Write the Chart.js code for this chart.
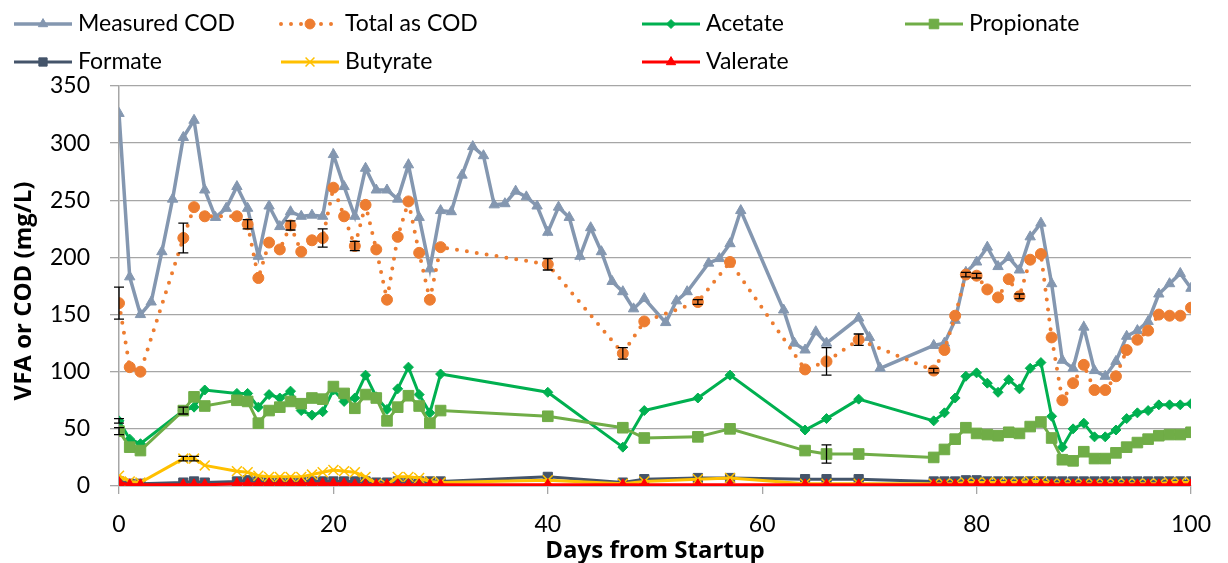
<!DOCTYPE html>
<html>
<head>
<meta charset="utf-8">
<title>VFA and COD</title>
<script src="https://cdn.jsdelivr.net/npm/chart.js@4/dist/chart.umd.min.js"></script>
<style>
  html, body { margin: 0; padding: 0; background: #fff; }
  #wrap { width: 1228px; height: 563px; }
</style>
</head>
<body>
<div id="wrap"><canvas id="grafico" width="1228" height="563"></canvas></div>
<script>
// sampling days for the measured COD series
const measuredDays = [0,1,2,3,4,5,6,7,8,9,10,11,12,13,14,15,16,17,18,19,20,21,22,23,24,25,26,27,28,29,
  30,31,32,33,34,35,36,37,38,39,40,41,42,43,44,45,46,47,48,49,51,52,53,55,56,57,58,62,63,64,65,66,69,70,71,
  76,77,78,79,80,81,82,83,84,85,86,87,88,89,90,91,92,93,94,95,96,97,98,99,100];
const measuredCOD = [326,183,150,161,205,251,305,320,259,235,243,262,243,201,245,227,240,236,237,236,
  290,262,236,278,259,259,251,281,235,190,241,240,272,297,289,246,247,258,253,245,
  222,244,235,201,226,205,179,170,155,164,143,162,170,195,199,212,241,154,125,119,135,125,147,130,103,
  123,125,145,187,196,209,192,200,189,218,230,177,110,103,139,101,96,109,131,136,144,168,177,186,173];

// sampling days for the VFA analyses
const vfaDays = [0,1,2,6,7,8,11,12,13,14,15,16,17,18,19,20,21,22,23,24,25,26,27,28,29,30,
  40,47,49,54,57,64,66,69,76,77,78,79,80,81,82,83,84,85,86,87,88,89,90,91,92,93,94,95,96,97,98,99,100];
const totalCOD = [160,104,100,217,244,236,236,229,182,213,207,228,205,215,217,261,236,210,246,207,163,218,249,204,163,209,
  194,116,144,161,196,102,109,128,101,119,149,185,184,172,165,181,166,198,203,130,75,90,106,84,84,96,119,128,136,150,149,149,156];
const totalErr = [14,0,0,13,0,0,0,4,0,0,0,4,0,0,8,0,0,4,0,0,0,0,0,0,0,0,
  5,5,0,2,0,0,12,5,2,0,0,2,2,0,0,0,2,0,0,0,0,0,0,0,0,0,0,0,0,0,0,0,0];
const acetate = [57,41,37,66,69,84,81,81,69,80,77,83,66,62,65,84,74,77,97,78,67,85,104,80,64,98,
  82,34,66,77,97,49,59,76,57,64,77,96,99,90,82,93,85,103,108,61,34,50,55,43,43,49,59,64,66,71,71,71,72];
const acetateErr = [2,0,0,3,0,0,0,0,0,0,0,0,0,0,0,0,0,0,0,0,0,0,0,0,0,0,
  0,0,0,0,0,0,0,0,0,0,0,0,0,0,0,0,0,0,0,0,0,0,0,0,0,0,0,0,0,0,0,0,0];
const propionate = [48,34,31,66,78,70,75,74,55,66,69,74,72,77,76,87,81,68,80,77,57,69,79,70,55,66,
  61,51,42,43,50,31,28,28,25,32,41,51,46,45,44,47,46,52,56,42,23,22,30,24,24,29,34,38,41,44,45,45,47];
const propionateErr = [3,0,0,0,0,0,0,0,0,0,0,0,0,0,0,0,0,0,0,0,0,0,0,0,0,0,
  0,0,0,0,0,0,8,0,0,0,0,0,0,0,0,0,0,0,0,0,0,0,0,0,0,0,0,0,0,0,0,0,0];
const formate = [4,2,2,3,4,3,4,5,4,4,4,4,4,4,4,4,4,4,4,3,3,4,4,4,4,4,
  8,3,6,7,7,6,6,6,4,4,4,5,5,4,4,4,4,4,4,4,4,4,4,4,4,4,4,4,4,4,4,4,4];
const butyrate = [9,4,3,24,24,18,13,12,9,8,8,8,8,10,12,14,13,12,8,2,1,8,8,7,4,3,
  5,2,4,6,7,2,2,2,2,2,2,3,3,3,3,3,3,4,4,2,2,2,2,2,2,2,2,2,2,2,3,3,3];
const butyrateErr = [0,0,0,2,2,0,0,0,0,0,0,0,0,0,0,0,0,0,0,0,0,0,0,0,0,0,
  0,0,0,0,0,0,0,0,0,0,0,0,0,0,0,0,0,0,0,0,0,0,0,0,0,0,0,0,0,0,0,0,0];
const valerate = [3,1,1,1,1,1,2,2,2,2,2,2,2,2,2,2,2,1,1,1,1,1,1,1,1,1,
  1,1,1,1,1,1,1,1,1,1,1,1,1,1,1,1,1,1,1,1,1,1,1,1,1,1,1,1,1,1,1,1,1];

const yTicks = [0,50,100,150,200,250,300,350];
const xTicks = [0,20,40,60,80,100];
const xTitle = 'Days from Startup';
const yTitle = 'VFA or COD (mg/L)';

const pts = (days, vals) => days.map((d, i) => ({ x: d, y: vals[i] }));

const fontFamily = 'Lato, "Open Sans", sans-serif';

function serie(label, days, vals, color, style, radius, extra) {
  return Object.assign({
    label: label,
    data: pts(days, vals),
    borderColor: color,
    backgroundColor: color,
    pointBackgroundColor: color,
    pointBorderColor: color,
    pointStyle: style,
    pointRadius: radius,
    pointHoverRadius: radius,
    pointBorderWidth: 1,
    borderWidth: 3,
    tension: 0,
    fill: false
  }, extra || {});
}

const datasets = [
  serie('Measured COD', measuredDays, measuredCOD, '#8497B0', 'triangle', 6, { borderWidth: 3.5, order: 7 }),
  serie('Total as COD', vfaDays, totalCOD, '#ED7D31', 'circle', 5.5, {
    borderWidth: 4, borderDash: [0, 10], borderCapStyle: 'round', order: 6, errorBars: totalErr }),
  serie('Acetate', vfaDays, acetate, '#00B050', 'rectRot', 5, { order: 5, errorBars: acetateErr }),
  serie('Propionate', vfaDays, propionate, '#70AD47', 'rect', 7.5, { order: 4, errorBars: propionateErr }),
  serie('Formate', vfaDays, formate, '#44546A', 'rect', 6.5, { order: 3 }),
  serie('Butyrate', vfaDays, butyrate, '#FFC000', 'crossRot', 7, { pointBorderWidth: 1.5, order: 2, errorBars: butyrateErr }),
  serie('Valerate', vfaDays, valerate, '#FF0000', 'triangle', 6, { order: 1 })
];

// vertical error bars with caps, from the dataset's errorBars array
const errorBarPlugin = {
  id: 'errorBars',
  afterDatasetsDraw(chart) {
    const ctx = chart.ctx;
    const yScale = chart.scales.y;
    ctx.save();
    ctx.strokeStyle = '#000';
    ctx.lineWidth = 1.3;
    chart.data.datasets.forEach((ds, di) => {
      if (!ds.errorBars) return;
      const meta = chart.getDatasetMeta(di);
      meta.data.forEach((pt, i) => {
        const e = ds.errorBars[i];
        if (!e) return;
        const v = ds.data[i].y;
        const top = yScale.getPixelForValue(v + e);
        const bot = yScale.getPixelForValue(v - e);
        ctx.beginPath();
        ctx.moveTo(pt.x, top); ctx.lineTo(pt.x, bot);
        ctx.moveTo(pt.x - 5, top); ctx.lineTo(pt.x + 5, top);
        ctx.moveTo(pt.x - 5, bot); ctx.lineTo(pt.x + 5, bot);
        ctx.stroke();
      });
    });
    ctx.restore();
  }
};

// two-row legend laid out in fixed columns
const columnLegend = {
  id: 'columnLegend',
  afterDraw(chart, args, opts) {
    const ctx = chart.ctx;
    ctx.save();
    ctx.font = opts.font;
    ctx.textBaseline = 'middle';
    ctx.fillStyle = '#000';
    chart.data.datasets.forEach((ds, i) => {
      const col = i % 4, row = Math.floor(i / 4);
      const x = opts.columns[col], y = opts.rows[row];
      ctx.save();
      ctx.strokeStyle = ds.borderColor;
      ctx.lineWidth = ds.borderWidth;
      ctx.lineCap = ds.borderCapStyle || 'butt';
      ctx.setLineDash(ds.borderDash || []);
      ctx.beginPath();
      ctx.moveTo(x, y); ctx.lineTo(x + opts.lineLength, y);
      ctx.stroke();
      ctx.setLineDash([]);
      ctx.fillStyle = ds.pointBackgroundColor;
      ctx.strokeStyle = ds.pointBorderColor;
      ctx.lineWidth = ds.pointBorderWidth;
      Chart.helpers.drawPoint(ctx, {
        pointStyle: ds.pointStyle, rotation: 0,
        radius: ds.pointRadius * 0.9, borderWidth: ds.pointBorderWidth
      }, x + opts.lineLength / 2, y);
      ctx.restore();
      ctx.fillText(ds.label, x + opts.lineLength + 6, y);
    });
    ctx.restore();
  }
};

// axis titles, placed against the chart area
const axisTitles = {
  id: 'axisTitles',
  afterDraw(chart, args, opts) {
    const ctx = chart.ctx;
    const area = chart.chartArea;
    ctx.save();
    ctx.font = opts.font;
    ctx.fillStyle = '#000';
    ctx.textAlign = 'center';
    ctx.textBaseline = 'alphabetic';
    ctx.fillText(xTitle, (area.left + area.right) / 2, opts.xBaseline);
    ctx.translate(opts.yBaseline, (area.top + area.bottom) / 2 + 5);
    ctx.rotate(-Math.PI / 2);
    ctx.fillText(yTitle, 0, 0);
    ctx.restore();
  }
};

new Chart(document.getElementById('grafico'), {
  type: 'line',
  data: { datasets: datasets },
  plugins: [errorBarPlugin, columnLegend, axisTitles],
  options: {
    responsive: false,
    animation: false,
    layout: { padding: { top: 86, right: 35, left: 0, bottom: 0 } },
    plugins: {
      legend: { display: false },
      tooltip: { enabled: false },
      columnLegend: {
        font: '23px ' + fontFamily,
        columns: [14, 281, 642, 905],
        rows: [24, 62],
        lineLength: 58
      },
      axisTitles: {
        font: 'bold 24px "Open Sans", Lato, sans-serif',
        xBaseline: 558,
        yBaseline: 31
      }
    },
    scales: {
      x: {
        type: 'linear',
        min: 0, max: 100,
        afterFit: s => { s.height = 77; },
        afterBuildTicks: s => { s.ticks = xTicks.map(v => ({ value: v })); },
        grid: { drawOnChartArea: false, drawTicks: true, tickLength: 8, color: '#A6A6A6', lineWidth: 1.3 },
        border: { display: true, color: '#A6A6A6', width: 1.5 },
        ticks: { color: '#000', font: { family: fontFamily, size: 23 }, padding: 17, maxRotation: 0 }
      },
      y: {
        type: 'linear',
        min: 0, max: 350,
        afterFit: s => { s.width = 119; },
        afterBuildTicks: s => { s.ticks = yTicks.map(v => ({ value: v })); },
        grid: { drawTicks: true, tickLength: 9, color: '#A6A6A6', lineWidth: 1.3 },
        border: { display: true, color: '#A6A6A6', width: 1.5 },
        ticks: { color: '#000', font: { family: fontFamily, size: 23 }, padding: 20 }
      }
    }
  }
});
</script>
</body>
</html>
